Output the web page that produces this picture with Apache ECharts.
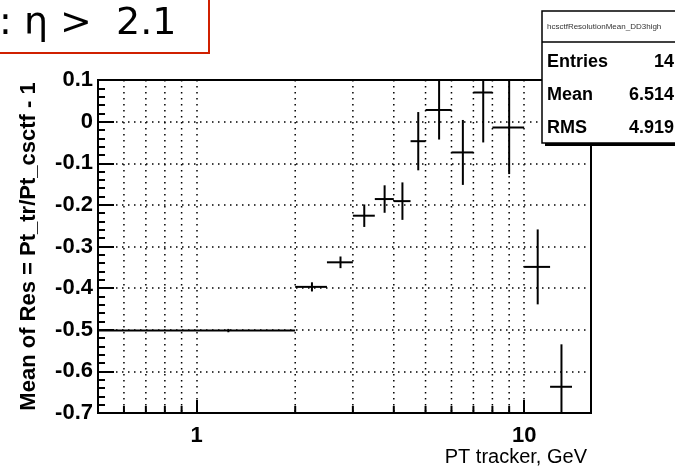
<!DOCTYPE html>
<html>
<head>
<meta charset="utf-8">
<script src="https://cdn.jsdelivr.net/npm/echarts@6/dist/echarts.min.js"></script>
<style>
    html, body { margin: 0; padding: 0; background: #fff; }
    #chart { width: 675px; height: 472px; }
</style>
</head>
<body>
<div id="chart"></div>
<script>
// bins of PT tracker (GeV)
var binCenter = [1.25, 2.25, 2.75, 3.25, 3.75, 4.25, 4.75, 5.5, 6.5, 7.5, 9, 11, 13];
var binLow    = [0.5, 2, 2.5, 3, 3.5, 4, 4.5, 5, 6, 7, 8, 10, 12];
var binHigh   = [2, 2.5, 3, 3.5, 4, 4.5, 5, 6, 7, 8, 10, 12, 14];
// mean of Res and its error
var meanRes = [-0.502, -0.397, -0.338, -0.226, -0.186, -0.191, -0.047, 0.028, -0.074, 0.070, -0.014, -0.349, -0.637];
var meanErr = [0.004, 0.011, 0.014, 0.027, 0.033, 0.045, 0.070, 0.071, 0.078, 0.120, 0.112, 0.090, 0.102];

// axes
var xRange = [0.5, 16];
var xMajor = [1, 10];
var xMinor = [0.6, 0.7, 0.8, 0.9, 2, 3, 4, 5, 6, 7, 8, 9];
var yTicks = [-0.7, -0.6, -0.5, -0.4, -0.3, -0.2, -0.1, 0, 0.1];

// stats box
var statTitle = 'hcsctfResolutionMean_DD3high';
var statNames = ['Entries', 'Mean', 'RMS'];
var statValues = ['14', '6.514', '4.919'];

var FONT = 'Liberation Sans';

function chartRender() {
    var chart = echarts.init(document.getElementById('chart'));

    var errData = [];
    for (var i = 0; i < binCenter.length; i++) {
        errData.push([binCenter[i], meanRes[i], binLow[i], binHigh[i], meanErr[i]]);
    }
    var minorData = xMinor.map(function (v) { return [v, yTicks[0]]; });

    // 误差棒 (cross)
    function renderErr(params, api) {
        var cs = params.coordSys;
        var x = api.value(0), y = api.value(1), lo = api.value(2), hi = api.value(3), e = api.value(4);
        var c = api.coord([x, y]);
        var left = Math.max(api.coord([lo, y])[0], cs.x);
        var right = Math.min(api.coord([hi, y])[0], cs.x + cs.width);
        var top = Math.max(api.coord([x, y + e])[1], cs.y);
        var bot = Math.min(api.coord([x, y - e])[1], cs.y + cs.height);
        return {
            type: 'group',
            children: [
                { type: 'line', shape: { x1: left, y1: c[1], x2: right, y2: c[1] }, style: { stroke: '#000', lineWidth: 2 } },
                { type: 'line', shape: { x1: c[0], y1: top, x2: c[0], y2: bot }, style: { stroke: '#000', lineWidth: 2 } }
            ]
        };
    }

    // log axis minor grid lines + ticks
    function renderMinor(params, api) {
        var cs = params.coordSys;
        var x = api.coord([api.value(0), api.value(1)])[0];
        var b = cs.y + cs.height;
        return {
            type: 'group',
            children: [
                { type: 'line', shape: { x1: x, y1: cs.y, x2: x, y2: b }, style: { stroke: '#000', lineWidth: 1.5, lineDash: [1.5, 4.5] } },
                { type: 'line', shape: { x1: x, y1: b, x2: x, y2: b - 7 }, style: { stroke: '#000', lineWidth: 2 } }
            ]
        };
    }

    var dotted = { color: '#000', width: 1.5, type: [1.5, 4.5] };

    var option = {
        backgroundColor: '#fff',
        animation: false,
        grid: {
            left: 98, top: 80, right: 84, bottom: 59,
            show: true, borderColor: '#000', borderWidth: 2
        },
        xAxis: {
            type: 'log',
            min: xRange[0],
            max: xRange[1],
            name: 'PT tracker, GeV',
            nameLocation: 'end',
            nameGap: -4,
            nameTextStyle: {
                fontFamily: FONT, fontSize: 20, color: '#000',
                align: 'right', verticalAlign: 'top', padding: [34, 0, 0, 0]
            },
            axisLine: { onZero: false, lineStyle: { color: '#000', width: 2 } },
            axisTick: { inside: true, length: 13, lineStyle: { color: '#000', width: 2 } },
            axisLabel: {
                margin: 12,
                fontFamily: FONT, fontSize: 22, fontWeight: 'bold', color: '#000',
                formatter: function (v) {
                    for (var k = 0; k < xMajor.length; k++) {
                        if (Math.abs(v - xMajor[k]) < 1e-6) return String(xMajor[k]);
                    }
                    return '';
                }
            },
            splitLine: { show: true, lineStyle: dotted }
        },
        yAxis: {
            type: 'value',
            min: yTicks[0],
            max: yTicks[yTicks.length - 1],
            interval: 0.1,
            name: 'Mean of Res = Pt_tr/Pt_csctf - 1',
            nameLocation: 'middle',
            nameGap: 58,
            nameTextStyle: { fontFamily: FONT, fontSize: 22, fontWeight: 'bold', color: '#000' },
            axisLine: { show: true, lineStyle: { color: '#000', width: 2 } },
            axisTick: { inside: true, length: 16, lineStyle: { color: '#000', width: 2 } },
            minorTick: { show: true, splitNumber: 5, length: 7, lineStyle: { color: '#000', width: 2 } },
            axisLabel: {
                margin: 5,
                fontFamily: FONT, fontSize: 22, fontWeight: 'bold', color: '#000',
                formatter: function (v) { return String(Math.round(v * 10) / 10); }
            },
            splitLine: { show: true, lineStyle: dotted }
        },
        series: [
            {
                type: 'custom',
                name: 'minor',
                silent: true,
                z: 1,
                renderItem: renderMinor,
                data: minorData
            },
            {
                type: 'custom',
                name: 'mean',
                z: 5,
                renderItem: renderErr,
                encode: { x: 0, y: 1 },
                data: errData
            }
        ],
        graphic: [
            // title box
            {
                type: 'rect', z: 100,
                shape: { x: -10, y: -10, width: 219, height: 63 },
                style: { fill: '#fff', stroke: '#d02000', lineWidth: 2 }
            },
            {
                type: 'text', z: 101, left: -1, top: 5,
                style: { text: ': \u03b7 >  2.1', font: '38px "DejaVu Sans"', fill: '#000' }
            },
            // stats box shadow + box
            {
                type: 'rect', z: 100,
                shape: { x: 545, y: 14, width: 140, height: 132 },
                style: { fill: '#000' }
            },
            {
                type: 'rect', z: 101,
                shape: { x: 542, y: 11, width: 140, height: 132 },
                style: { fill: '#fff', stroke: '#000', lineWidth: 1.5 }
            },
            {
                type: 'line', z: 102,
                shape: { x1: 542, y1: 42, x2: 680, y2: 42 },
                style: { stroke: '#000', lineWidth: 1.5 }
            },
            {
                type: 'text', z: 102, left: 547, top: 23,
                style: { text: statTitle, font: '8px "Liberation Sans"', fill: '#333' }
            }
        ]
    };

    for (var j = 0; j < statNames.length; j++) {
        var yy = 62 + j * 33;
        option.graphic.push({
            type: 'text', z: 102, x: 547, y: yy,
            style: { text: statNames[j], font: 'bold 18px "Liberation Sans"', fill: '#000', verticalAlign: 'middle', align: 'left' }
        });
        option.graphic.push({
            type: 'text', z: 102, x: 674, y: yy,
            style: { text: statValues[j], font: 'bold 18px "Liberation Sans"', fill: '#000', verticalAlign: 'middle', align: 'right' }
        });
    }

    chart.setOption(option);
}

chartRender();
</script>
</body>
</html>
